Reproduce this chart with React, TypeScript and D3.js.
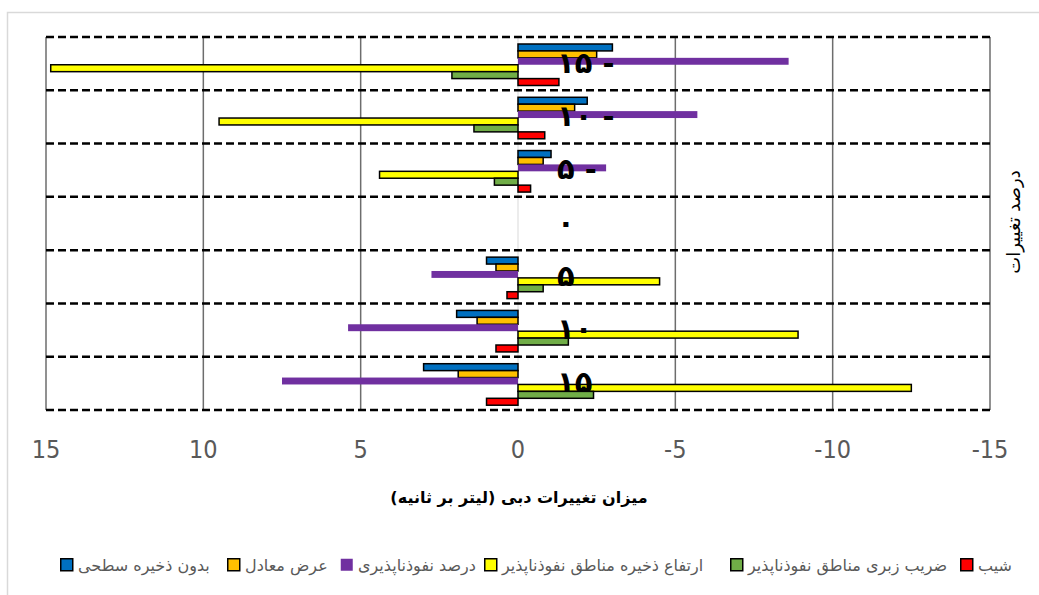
import * as React from 'react';
import { scaleLinear, scaleBand } from 'd3';

// categories (percent change), top to bottom
const categories = [-15, -10, -5, 0, 5, 10, 15];

// discharge change (l/s) per series, same order as categories
const noSurfaceStorage = [-3.0, -2.2, -1.05, 0, 1.0, 1.95, 3.0];
const equivWidth = [-2.5, -1.8, -0.8, 0, 0.7, 1.3, 1.9];
const imperviousPct = [-8.6, -5.7, -2.8, 0, 2.75, 5.4, 7.5];
const imperviousStorage = [14.85, 9.5, 4.4, 0, -4.5, -8.9, -12.5];
const imperviousRoughness = [2.1, 1.4, 0.75, 0, -0.8, -1.6, -2.4];
const slope = [-1.3, -0.85, -0.4, 0, 0.35, 0.7, 1.0];

const xTicks = [15, 10, 5, 0, -5, -10, -15];

const series = [
    { key: 'blue', name: 'بدون ذخیره سطحی', values: noSurfaceStorage, color: '#0070C0', stroke: true },
    { key: 'orange', name: 'عرض معادل', values: equivWidth, color: '#FFC000', stroke: true },
    { key: 'purple', name: 'درصد نفوذناپذیری', values: imperviousPct, color: '#7030A0', stroke: false },
    { key: 'yellow', name: 'ارتفاع ذخیره مناطق نفوذناپذیر', values: imperviousStorage, color: '#FFFF00', stroke: true },
    { key: 'green', name: 'ضریب زبری مناطق نفوذناپذیر', values: imperviousRoughness, color: '#70AD47', stroke: true },
    { key: 'red', name: 'شیب', values: slope, color: '#FF0000', stroke: true },
];

// legend swatch x positions (left to right)
const legendX: Record<string, number> = {
    blue: 60, orange: 227, purple: 340, yellow: 484, green: 730, red: 960,
};

const faDigits = '۰۱۲۳۴۵۶۷۸۹';
const toFa = (v: number) => {
    const s = String(Math.abs(v)).replace(/\d/g, d => faDigits[+d]);
    return v < 0 ? s + ' -' : s;
};

const ARABIC_FONT = '"DejaVu Sans", sans-serif';

export default function App() {
    const x = scaleLinear().domain([15, -15]).range([46, 990]);
    const y = scaleBand<number>().domain(categories).range([37, 410]);
    const inner = scaleBand<string>()
        .domain(series.map(s => s.key))
        .range([7, 48.5]);

    const boundaries = categories.map(c => y(c) as number).concat([410]);

    return (
        <svg width={1039} height={595} style={{ position: 'absolute', left: 0, top: 0, background: '#fff' }}>
            <rect x={7.5} y={12.5} width={1040} height={600} fill="#fff" stroke="#D9D9D9" strokeWidth={1.5} />

            {/* vertical gridlines */}
            {xTicks.map(t => (
                <line key={'g' + t} x1={x(t)} x2={x(t)} y1={37} y2={410}
                    stroke={t === 0 ? '#D9D9D9' : '#6d6d6d'} strokeWidth={t === 0 ? 1 : 1.5} />
            ))}

            {/* horizontal dashed lines */}
            {boundaries.map((b, i) => (
                <line key={'h' + i} x1={46} x2={990} y1={b} y2={b}
                    stroke="#000" strokeWidth={2.5} strokeDasharray="8,4" />
            ))}

            {/* bars */}
            {series.map(s => (
                <g key={s.key}>
                    {s.values.map((v, i) => {
                        if (v === 0) return null;
                        const c = categories[i];
                        const x0 = Math.min(x(0), x(v));
                        const w = Math.abs(x(v) - x(0));
                        return (
                            <rect key={i} x={x0} y={(y(c) as number) + (inner(s.key) as number)}
                                width={w} height={inner.bandwidth()} fill={s.color}
                                stroke={s.stroke ? '#000' : 'none'} strokeWidth={1.5} />
                        );
                    })}
                </g>
            ))}

            {/* category labels */}
            {categories.map(c => (
                <text key={'c' + c} x={557} y={(y(c) as number) + y.bandwidth() / 2 + 9}
                    fontFamily={ARABIC_FONT} fontWeight="bold" fontSize={29} fill="#000">
                    {toFa(c)}
                </text>
            ))}

            {/* x tick labels */}
            {xTicks.map(t => (
                <text key={'t' + t} x={x(t)} y={458} textAnchor="middle"
                    fontFamily='"Liberation Sans Narrow", "DejaVu Sans Condensed", sans-serif'
                    fontSize={25} fill="#595959">
                    {String(t)}
                </text>
            ))}

            {/* axis titles */}
            <text x={519} y={503} textAnchor="middle" fontFamily={ARABIC_FONT} fontWeight="bold"
                fontSize={16} fill="#000">
                میزان تغییرات دبی (لیتر بر ثانیه)
            </text>
            <text transform="translate(1020,222) rotate(-90)" textAnchor="middle"
                fontFamily={ARABIC_FONT} fontSize={18} fill="#000">
                درصد تغییرات
            </text>

            {/* legend */}
            {series.map(s => (
                <g key={'l' + s.key}>
                    <rect x={legendX[s.key] + 0.75} y={558.75} width={12} height={12} fill={s.color}
                        stroke={s.stroke ? '#000' : 'none'} strokeWidth={1.5} />
                    <text x={legendX[s.key] + 18} y={571} fontFamily={ARABIC_FONT} fontSize={16} fill="#595959">
                        {s.name}
                    </text>
                </g>
            ))}
        </svg>
    );
}
